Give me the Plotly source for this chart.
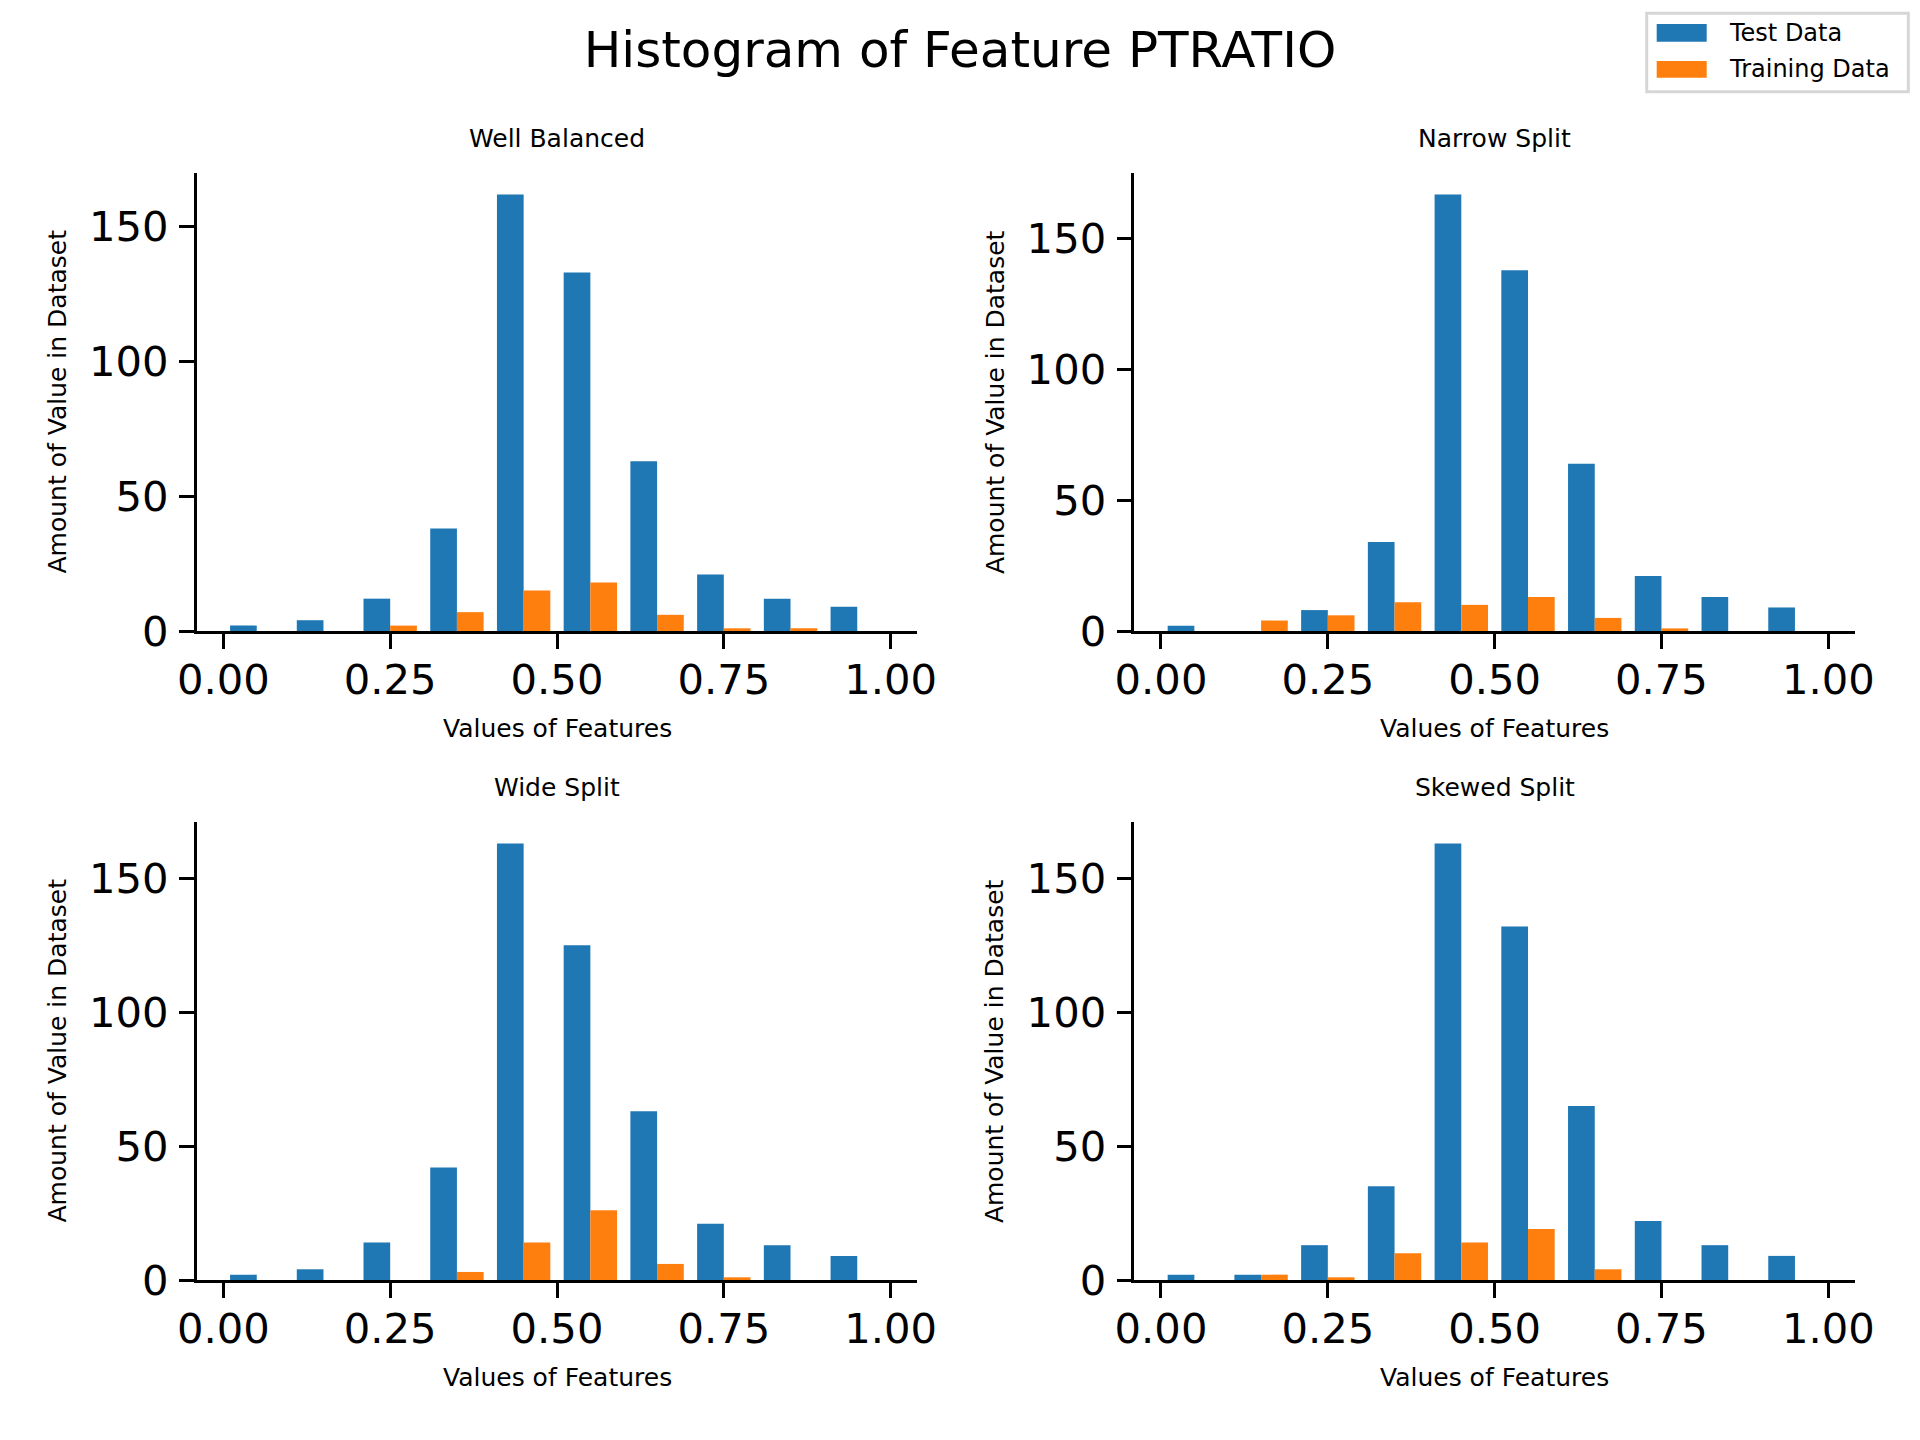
import plotly.graph_objects as go
from plotly.subplots import make_subplots

# ---- data ----
bin_centers = [0.05, 0.15, 0.25, 0.35, 0.45, 0.55, 0.65, 0.75, 0.85, 0.95]
panel_titles = ["Well Balanced", "Narrow Split", "Wide Split", "Skewed Split"]
series_names = ["Test Data", "Training Data"]

test_well = [2, 4, 12, 38, 162, 133, 63, 21, 12, 9]
train_well = [0, 0, 2, 7, 15, 18, 6, 1, 1, 0]

test_narrow = [2, 0, 8, 34, 167, 138, 64, 21, 13, 9]
train_narrow = [0, 4, 6, 11, 10, 13, 5, 1, 0, 0]

test_wide = [2, 4, 14, 42, 163, 125, 63, 21, 13, 9]
train_wide = [0, 0, 0, 3, 14, 26, 6, 1, 0, 0]

test_skewed = [2, 2, 13, 35, 163, 132, 65, 22, 13, 9]
train_skewed = [0, 2, 1, 10, 14, 19, 4, 0, 0, 0]

x_tickvals = [0, 0.25, 0.5, 0.75, 1.0]
x_ticktext = ["0.00", "0.25", "0.50", "0.75", "1.00"]
y_tickvals = [0, 50, 100, 150]
y_ticktext = ["0", "50", "100", "150"]

main_title = "Histogram of Feature PTRATIO"
x_label = "Values of Features"
y_label = "Amount of Value in Dataset"

# ---- styling ----
W, H = 1920, 1440
OFF = 8  # page body margin compensation
BLUE = "#1f77b4"
ORANGE = "#ff7f0e"
FONT = "DejaVu Sans"
TICK_PX = 41.7
SMALL_PX = 25
LW = 3.33
TL = 14.6


def px_x(v):
    return (v - OFF) / W


def px_y(v):
    return 1 - (v - OFF) / H


panels = [
    (test_well, train_well),
    (test_narrow, train_narrow),
    (test_wide, train_wide),
    (test_skewed, train_skewed),
]

xdoms = [[px_x(196.7), px_x(917.3)], [px_x(1134.3), px_x(1855.0)]]
ydoms = [[px_y(631.0), px_y(172.6)], [px_y(1280.0), px_y(821.6)]]

fig = make_subplots(rows=2, cols=2)

for i, (tv, trv) in enumerate(panels):
    r, c = i // 2 + 1, i % 2 + 1
    fig.add_trace(go.Bar(x=bin_centers, y=tv, name=series_names[0],
                         marker=dict(color=BLUE, line=dict(width=0)),
                         showlegend=False), row=r, col=c)
    fig.add_trace(go.Bar(x=bin_centers, y=trv, name=series_names[1],
                         marker=dict(color=ORANGE, line=dict(width=0)),
                         showlegend=False), row=r, col=c)
    ymax = 1.05 * max(max(tv), max(trv))
    axis_common = dict(showline=True, linecolor="black", linewidth=LW,
                       ticks="outside", ticklen=TL, tickwidth=LW, tickcolor="black",
                       showgrid=False, zeroline=False, automargin=False,
                       tickfont=dict(family=FONT, size=TICK_PX, color="black"))
    fig.update_xaxes(range=[-0.04, 1.04], tickvals=x_tickvals, ticktext=x_ticktext,
                     domain=xdoms[c - 1], ticklabelstandoff=-5, **axis_common, row=r, col=c)
    fig.update_yaxes(range=[0, ymax], tickvals=y_tickvals, ticktext=y_ticktext,
                     domain=ydoms[r - 1], ticklabelstandoff=2, **axis_common, row=r, col=c)

    xref = "x" if i == 0 else f"x{i + 1}"
    yref = "y" if i == 0 else f"y{i + 1}"
    fig.add_annotation(text=panel_titles[i], xref=f"{xref} domain", yref=f"{yref} domain",
                       x=0.5, y=1, xanchor="center", yanchor="middle", yshift=34,
                       showarrow=False, font=dict(family=FONT, size=SMALL_PX, color="black"))
    fig.add_annotation(text=x_label, xref=f"{xref} domain", yref=f"{yref} domain",
                       x=0.5, y=0, xanchor="center", yanchor="middle", yshift=-97,
                       showarrow=False, font=dict(family=FONT, size=SMALL_PX, color="black"))
    fig.add_annotation(text=y_label, xref=f"{xref} domain", yref=f"{yref} domain",
                       x=0, y=0.5, xanchor="center", yanchor="middle", xshift=-139,
                       textangle=-90, showarrow=False,
                       font=dict(family=FONT, size=SMALL_PX, color="black"))

# figure legend (upper right)
fig.add_shape(type="rect", xref="paper", yref="paper",
              x0=px_x(1646.7), x1=px_x(1908.3), y0=px_y(91.7), y1=px_y(13.3),
              line=dict(color="#d6d6d6", width=3), fillcolor="rgba(255,255,255,0.8)")
leg_rows = [(BLUE, series_names[0], 24.0, 41.7), (ORANGE, series_names[1], 61.0, 77.7)]
for col, name, y0, y1 in leg_rows:
    fig.add_shape(type="rect", xref="paper", yref="paper",
                  x0=px_x(1656.7), x1=px_x(1706.7), y0=px_y(y1), y1=px_y(y0),
                  line=dict(width=0), fillcolor=col)
    fig.add_annotation(text=name, xref="paper", yref="paper",
                       x=px_x(1727), y=px_y((y0 + y1) / 2), xanchor="left", yanchor="middle",
                       showarrow=False, font=dict(family=FONT, size=24, color="black"))

fig.update_layout(
    width=W, height=H,
    margin=dict(l=0, r=0, t=0, b=0, autoexpand=False),
    paper_bgcolor="white", plot_bgcolor="white",
    barmode="group", bargap=0.2, bargroupgap=0,
    title=dict(text=main_title, x=px_x(960), xanchor="center", y=px_y(49.5), yanchor="middle",
               automargin=False, font=dict(family=FONT, size=50, color="black")),
    font=dict(family=FONT, color="black"),
)

fig.write_html("out.html")
